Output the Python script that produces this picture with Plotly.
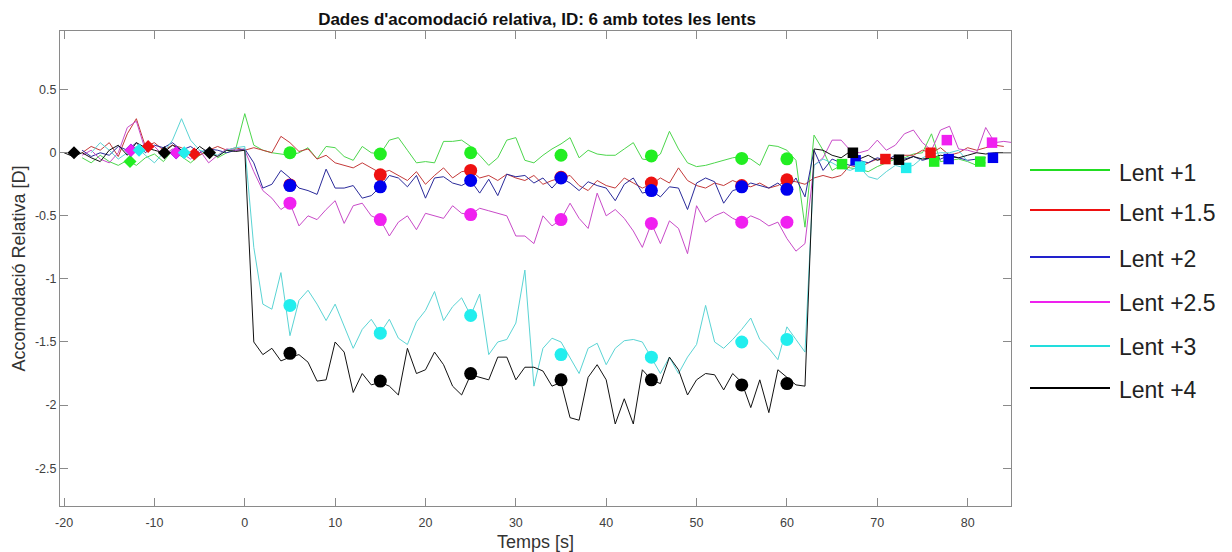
import plotly.graph_objects as go

# ---------------- data ----------------
T = list(range(-20, 86))  # sampling times [s]

green = [None, None, -0.04, -0.08, -0.02, -0.07, -0.10, -0.06, -0.10, -0.04, -0.01, -0.07, 0.02, -0.03, -0.08, -0.02, 0.03, -0.04, 0.00, 0.03,
         0.31, 0.06, 0.02, 0.00, -0.01, -0.02, 0.00, 0.04, -0.05, 0.05, 0.04, -0.03, -0.06, 0.05, 0.00, -0.01, 0.10, 0.12, 0.02, -0.08,
         -0.07, -0.08, 0.09, 0.09, 0.10, 0.05, -0.02, -0.10, -0.04, 0.10, 0.12, -0.06, -0.08, -0.02, 0.03, 0.07, 0.12, -0.04, 0.02, -0.01,
         -0.02, -0.02, 0.03, 0.08, -0.05, -0.06, -0.01, 0.17, 0.03, -0.08, -0.11, -0.10, -0.08, -0.06, -0.04, -0.03, -0.05, -0.10, 0.06, 0.05,
         0.02, -0.06, -0.59, 0.14, 0.02, -0.14, -0.10, -0.12, -0.13, -0.15, -0.11, -0.08, -0.05, -0.04, -0.01, 0.00, 0.15, -0.07, -0.06, -0.05,
         -0.07, -0.10, -0.08, None, None, None]

red = [None, None, 0.00, 0.05, 0.02, 0.08, -0.03, 0.15, 0.27, 0.05, 0.08, 0.02, 0.06, 0.04, 0.00, -0.02, 0.02, 0.05, 0.02, 0.04,
       0.02, 0.04, 0.02, 0.00, 0.13, 0.08, 0.01, 0.03, -0.05, -0.02, -0.08, -0.10, -0.12, -0.08, -0.12, -0.16, -0.14, -0.18, -0.22, -0.15,
       -0.25, -0.18, -0.12, -0.20, -0.15, -0.14, -0.20, -0.18, -0.22, -0.17, -0.20, -0.22, -0.18, -0.25, -0.22, -0.20, -0.18, -0.26, -0.30, -0.22,
       -0.26, -0.28, -0.20, -0.24, -0.28, -0.25, -0.20, -0.24, -0.12, -0.22, -0.26, -0.28, -0.24, -0.26, -0.22, -0.25, -0.27, -0.24, -0.28, -0.26,
       -0.22, -0.23, -0.25, -0.20, -0.18, -0.20, -0.18, -0.10, -0.12, -0.08, -0.05, -0.06, -0.04, -0.02, -0.02, 0.02, 0.00, 0.04, -0.02, 0.00,
       0.04, 0.02, 0.04, 0.06, 0.05, None]

blue = [None, None, 0.02, -0.03, 0.00, -0.02, 0.05, 0.02, 0.08, 0.00, 0.06, 0.04, 0.08, 0.02, 0.05, 0.00, 0.03, 0.02, 0.00, 0.02,
        0.03, -0.08, -0.28, -0.25, -0.14, -0.20, -0.28, -0.30, -0.33, -0.13, -0.28, -0.28, -0.26, -0.36, -0.34, -0.27, -0.18, -0.20, -0.27, -0.18,
        -0.36, -0.20, -0.19, -0.24, -0.26, -0.22, -0.32, -0.21, -0.34, -0.17, -0.19, -0.18, -0.24, -0.20, -0.28, -0.20, -0.24, -0.30, -0.23, -0.26,
        -0.28, -0.38, -0.25, -0.20, -0.32, -0.30, -0.35, -0.27, -0.28, -0.45, -0.24, -0.20, -0.23, -0.40, -0.30, -0.28, -0.24, -0.26, -0.28, -0.24,
        -0.30, -0.20, -0.35, 0.02, -0.14, -0.05, -0.08, -0.10, -0.06, -0.08, -0.04, -0.06, -0.02, -0.05, -0.03, -0.06, -0.04, -0.05, -0.02, -0.04,
        -0.06, -0.05, -0.04, None, None, None]

magenta = [None, None, -0.02, 0.02, -0.05, -0.08, 0.00, 0.20, 0.25, 0.02, 0.05, -0.02, 0.03, 0.00, -0.05, 0.02, -0.08, -0.02, 0.03, 0.02,
           0.02, -0.15, -0.30, -0.36, -0.45, -0.40, -0.58, -0.50, -0.53, -0.45, -0.38, -0.56, -0.42, -0.40, -0.50, -0.53, -0.66, -0.55, -0.50, -0.61,
           -0.48, -0.50, -0.52, -0.42, -0.48, -0.49, -0.44, -0.46, -0.48, -0.50, -0.66, -0.66, -0.72, -0.50, -0.58, -0.53, -0.40, -0.52, -0.60, -0.32,
           -0.50, -0.45, -0.52, -0.62, -0.75, -0.56, -0.72, -0.54, -0.60, -0.80, -0.42, -0.55, -0.50, -0.47, -0.52, -0.55, -0.50, -0.53, -0.58, -0.55,
           -0.68, -0.78, -0.72, -0.10, -0.04, 0.10, 0.10, 0.02, 0.00, 0.02, 0.10, 0.02, 0.06, 0.15, 0.18, 0.08, 0.02, 0.18, 0.21, 0.03,
           0.02, 0.00, 0.20, 0.08, 0.09, 0.08]

cyan = [None, None, None, 0.00, 0.08, 0.02, -0.05, 0.00, 0.05, -0.02, -0.08, 0.00, 0.10, 0.27, 0.10, 0.02, 0.00, -0.02, 0.02, 0.04,
        0.05, -0.75, -1.20, -1.24, -0.95, -1.45, -1.17, -1.09, -1.20, -1.33, -1.20, -1.38, -1.55, -1.40, -1.32, -1.43, -1.32, -1.47, -1.52, -1.34,
        -1.25, -1.10, -1.33, -1.22, -1.15, -1.29, -1.12, -1.60, -1.50, -1.48, -1.35, -0.93, -1.85, -1.55, -1.47, -1.50, -1.62, -1.75, -1.55, -1.51,
        -1.68, -1.55, -1.49, -1.48, -1.50, -1.62, -1.75, -1.62, -1.75, -1.62, -1.52, -1.21, -1.50, -1.55, -1.48, -1.40, -1.31, -1.48, -1.55, -1.64,
        -1.38, -1.48, -1.58, -0.10, -0.05, -0.08, -0.12, -0.14, -0.11, -0.19, -0.21, -0.15, -0.10, -0.12, -0.10, -0.04, -0.01, 0.00, 0.00, 0.02,
        -0.07, None, None, None, None, None]

black = [0.00, -0.03, 0.00, -0.04, -0.07, 0.02, 0.06, -0.02, 0.08, 0.04, 0.02, 0.00, 0.06, 0.02, -0.02, 0.05, 0.00, -0.03, 0.02, 0.01,
         0.02, -1.50, -1.60, -1.55, -1.65, -1.62, -1.60, -1.66, -1.81, -1.80, -1.50, -1.58, -1.90, -1.75, -1.84, -1.82, -1.85, -1.92, -1.55, -1.75,
         -1.72, -1.58, -1.68, -1.85, -1.92, -1.76, -1.78, -1.80, -1.62, -1.62, -1.80, -1.70, -1.70, -1.73, -1.85, -1.82, -2.10, -2.12, -1.78, -1.68,
         -1.80, -2.15, -1.95, -2.15, -1.72, -1.80, -1.83, -1.62, -1.72, -1.92, -1.80, -1.75, -1.76, -1.88, -1.75, -1.82, -2.02, -1.80, -2.06, -1.72,
         -1.78, -1.84, -1.85, 0.03, 0.02, -0.02, -0.04, 0.01, -0.05, -0.02, -0.06, -0.04, -0.05, -0.06, -0.03, -0.05, -0.04, -0.02, -0.03, -0.04,
         -0.02, 0.00, -0.01, 0.00, 0.00, 0.00]

# mean values during the lens phase (circles)
circle_t = [5, 15, 25, 35, 45, 55, 60]
circ_green = [0.00, -0.01, 0.00, -0.02, -0.025, -0.045, -0.048]
circ_red = [-0.255, -0.175, -0.14, -0.195, -0.24, -0.26, -0.215]
circ_blue = [-0.26, -0.27, -0.22, -0.20, -0.30, -0.27, -0.29]
circ_magenta = [-0.40, -0.53, -0.49, -0.53, -0.56, -0.55, -0.55]
circ_cyan = [-1.21, -1.43, -1.29, -1.60, -1.62, -1.50, -1.48]
circ_black = [-1.59, -1.81, -1.75, -1.80, -1.80, -1.84, -1.83]

# pre-phase values (diamonds)
dia_green_t, dia_green = [-12.7], [-0.07]
dia_red_t, dia_red = [-10.7, -5.6], [0.05, -0.01]
dia_blue_t, dia_blue = [-12.6, -7.6], [0.02, 0.00]
dia_magenta_t, dia_magenta = [-12.6, -7.6], [0.02, 0.00]
dia_cyan_t, dia_cyan = [-11.7, -6.7], [0.02, 0.00]
dia_black_t, dia_black = [-18.9, -8.9, -3.9], [0.00, 0.00, 0.00]

# post-phase values (squares)
sq_green_t, sq_green = [66.1, 76.3, 81.4], [-0.09, -0.07, -0.07]
sq_red_t, sq_red = [70.9, 75.9], [-0.05, 0.00]
sq_blue_t, sq_blue = [67.6, 77.9, 82.8], [-0.06, -0.05, -0.04]
sq_magenta_t, sq_magenta = [77.7, 82.7], [0.10, 0.08]
sq_cyan_t, sq_cyan = [68.1, 73.2], [-0.11, -0.12]
sq_black_t, sq_black = [67.3, 72.4], [0.00, -0.055]

names = ["Lent +1", "Lent +1.5", "Lent +2", "Lent +2.5", "Lent +3", "Lent +4"]
x_ticks = [-20, -10, 0, 10, 20, 30, 40, 50, 60, 70, 80]
x_ticktext = ["-20", "-10", "0", "10", "20", "30", "40", "50", "60", "70", "80"]
y_ticks = [0.5, 0, -0.5, -1, -1.5, -2, -2.5]
y_ticktext = ["0.5", "0", "-0.5", "-1", "-1.5", "-2", "-2.5"]

# ---------------- styles ----------------
line_cols = ["#4cd64c", "#c43a3a", "#2a2a9a", "#c84ac8", "#5ad4d4", "#111111"]
mark_cols = ["#22ee22", "#ee1111", "#0000ee", "#f020f0", "#22eeee", "#000000"]
legend_cols = ["#22dd22", "#ee1111", "#2222cc", "#ee22ee", "#22dddd", "#000000"]

series = [green, red, blue, magenta, cyan, black]
circles = [circ_green, circ_red, circ_blue, circ_magenta, circ_cyan, circ_black]
diamonds = [(dia_green_t, dia_green), (dia_red_t, dia_red), (dia_blue_t, dia_blue),
            (dia_magenta_t, dia_magenta), (dia_cyan_t, dia_cyan), (dia_black_t, dia_black)]
squares = [(sq_green_t, sq_green), (sq_red_t, sq_red), (sq_blue_t, sq_blue),
           (sq_magenta_t, sq_magenta), (sq_cyan_t, sq_cyan), (sq_black_t, sq_black)]

FONT = "Liberation Sans, Arial, Helvetica, sans-serif"

fig = go.Figure()
for vals, lc, nm in zip(series, line_cols, names):
    fig.add_trace(go.Scatter(x=T, y=vals, mode="lines", name=nm,
                             line=dict(color=lc, width=1), connectgaps=False,
                             showlegend=False, hoverinfo="skip"))

for i in range(6):
    mc = mark_cols[i]
    dt, dv = diamonds[i]
    st, sv = squares[i]
    fig.add_trace(go.Scatter(x=dt, y=dv, mode="markers", showlegend=False, hoverinfo="skip",
                             marker=dict(symbol="diamond", size=10, color=mc, line=dict(width=0))))
    fig.add_trace(go.Scatter(x=circle_t, y=circles[i], mode="markers", showlegend=False, hoverinfo="skip",
                             marker=dict(symbol="circle", size=13, color=mc, line=dict(width=0))))
    fig.add_trace(go.Scatter(x=st, y=sv, mode="markers", showlegend=False, hoverinfo="skip",
                             marker=dict(symbol="square", size=10.5, color=mc, line=dict(width=0))))

# ---------------- layout ----------------
OFF = 8  # page body margin
W, H = 1232 - OFF, 552 - OFF
L, TOP = 60 - OFF, 31 - OFF
R, B = W - (1011 - OFF), H - (506 - OFF)
pw, ph = W - L - R, H - TOP - B

def px_x(page_x):
    return (page_x - OFF - L) / pw

def px_y(page_y):
    return (H - B - (page_y - OFF)) / ph

shapes = []
annotations = []
leg_line_y = [170, 210, 257, 302, 346, 388]
leg_text_y = [173, 213, 259, 303, 347, 390]
for nm, col, ly, ty in zip(names, legend_cols, leg_line_y, leg_text_y):
    shapes.append(dict(type="line", xref="paper", yref="paper",
                       x0=px_x(1030), x1=px_x(1110), y0=px_y(ly), y1=px_y(ly),
                       line=dict(color=col, width=2)))
    annotations.append(dict(text=nm, xref="paper", yref="paper", x=px_x(1117), y=px_y(ty),
                            xanchor="left", yanchor="middle", showarrow=False,
                            font=dict(family=FONT, size=23, color="#222222")))

axis_col = "#8a8a8a"
fig.update_layout(
    width=W, height=H,
    margin=dict(l=L, r=R, t=TOP, b=B, pad=0, autoexpand=False),
    paper_bgcolor="white", plot_bgcolor="white",
    font=dict(family=FONT, color="#333333"),
    title=dict(text="<b>Dades d'acomodació relativa, ID: 6 amb totes les lents</b>",
               x=px_x(537), xref="paper", xanchor="center",
               y=1 - (19 - OFF) / H, yref="container", yanchor="middle",
               font=dict(family=FONT, size=17, color="#111111")),
    shapes=shapes, annotations=annotations,
    showlegend=False,
)
fig.update_xaxes(range=[-20.45, 84.8], tickvals=x_ticks, ticktext=x_ticktext,
                 ticks="inside", ticklen=8, tickcolor=axis_col, tickwidth=1,
                 showline=True, linecolor=axis_col, linewidth=1, mirror="ticks",
                 showgrid=False, zeroline=False, automargin=False, ticklabelstandoff=5,
                 tickfont=dict(family=FONT, size=12.5, color="#404040"),
                 title=dict(text="Temps [s]", standoff=6,
                            font=dict(family=FONT, size=18, color="#333333")))
fig.update_yaxes(range=[-2.8, 0.965], tickvals=y_ticks, ticktext=y_ticktext,
                 ticks="inside", ticklen=8, tickcolor=axis_col, tickwidth=1,
                 showline=True, linecolor=axis_col, linewidth=1, mirror="ticks",
                 showgrid=False, zeroline=False, automargin=False,
                 tickfont=dict(family=FONT, size=12.5, color="#404040"),
                 title=dict(text="Accomodació Relativa [D]", standoff=4,
                            font=dict(family=FONT, size=18, color="#333333")))

fig.write_html("out.html")
